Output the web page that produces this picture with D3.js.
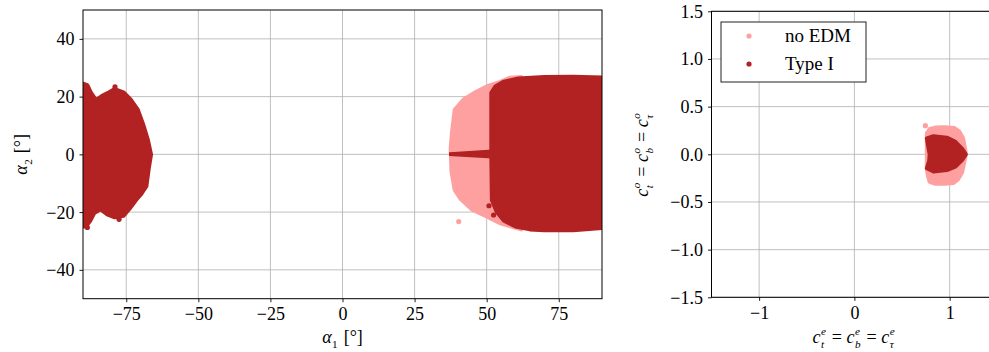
<!DOCTYPE html>
<html>
<head>
<meta charset="utf-8">
<script src="https://cdn.jsdelivr.net/npm/d3@7"></script>
<style>
  body { margin: 0; background: #fff; }
  svg text { font-family: "Liberation Serif", serif; fill: #000; }
</style>
</head>
<body>
<div id="chart"></div>
<script>
// colours of the two series
const colNoEdm = '#ffa0a0';
const colType1 = '#b22222';
const seriesNames = ['no EDM', 'Type I'];

// ticks
const leftXTicks = [-75, -50, -25, 0, 25, 50, 75];
const leftYTicks = [-40, -20, 0, 20, 40];
const rightXTicks = [-1, 0, 1];
const rightYTicks = [-1.5, -1.0, -0.5, 0.0, 0.5, 1.0, 1.5];

// left panel: outlines of the point clouds (alpha1, alpha2)
const leftNoEdmCloud = [
  [37.5, 2], [38, 8], [38.9, 15.4], [42, 19], [46.4, 21.7], [50, 23.5], [54.5, 25], [58, 26.5], [62, 26.8],
  [62, -26], [55, -24], [50, -21.5], [45, -19.2], [41, -15.5], [38.9, -12.3], [37.8, -6]
];
const leftNoEdmDots = [
  [40.3, -23.3], [-86.5, 19.2], [-85, 17.8], [-84, 16.8], [-86, -18.5], [-85, -19.6], [-84, -17.6], [-89, -22.3], [-87.8, 20.5]
];
const leftType1Cloud = [
  [51.6, 21.3], [53, 23.5], [56, 25.2], [61, 26.3], [70, 26.8], [80, 26.9], [90, 26.6],
  [90, -25.5], [80, -26.3], [70, -26.3], [65, -26], [60, -25], [56, -23], [53.5, -20], [51.8, -15.8], [51.6, 0]
];
const leftType1Streak = [
  [37.2, 0.45], [51.7, 1.4], [51.7, -1.2], [37.2, -0.35]
];
const leftType1CloudB = [
  [-90, 24.5], [-88.5, 24], [-87.3, 21.5], [-85.5, 18.8], [-83.5, 20.2], [-81.5, 21.2], [-79, 22.6], [-76, 21.5],
  [-73.5, 19], [-71, 15.5], [-69, 10], [-67.5, 5], [-66.4, 0], [-67.2, -5], [-68, -11], [-70, -14],
  [-71.6, -15.8], [-74, -19], [-76, -21.3], [-79, -21.8], [-81.6, -20.8], [-84, -19], [-86, -20.2],
  [-87.5, -23], [-89, -25], [-90, -25]
];
const leftType1Dots = [[-78.9, 23.4], [-77.5, -22.5], [-88.5, -25.3], [52.4, -21], [50.8, -17.8]];

// right panel: outlines (c_e, c_o)
const rightNoEdmCloud = [
  [0.76, 0.22], [0.79, 0.265], [0.85, 0.28], [0.95, 0.285], [1.05, 0.275], [1.1, 0.24], [1.14, 0.17],
  [1.16, 0.07], [1.17, 0], [1.15, -0.1], [1.13, -0.19], [1.09, -0.26], [1.04, -0.30], [0.95, -0.31],
  [0.85, -0.31], [0.79, -0.29], [0.77, -0.22], [0.76, -0.15]
];
const rightNoEdmDots = [[0.745, 0.30]];
const rightType1Cloud = [
  [0.76, 0.168], [0.83, 0.19], [0.97, 0.175], [1.06, 0.13], [1.13, 0.06], [1.17, 0], [1.13, -0.06],
  [1.06, -0.13], [0.97, -0.165], [0.83, -0.18], [0.76, -0.147], [0.785, -0.07], [0.79, 0], [0.775, 0.08]
];

const width = 989, height = 352;
const svg = d3.select('#chart').append('svg')
  .attr('width', width)
  .attr('height', height);

const panelL = { x0: 83, x1: 602, y0: 10, y1: 298.7 };
const panelR = { x0: 711.5, x1: 997.3, y0: 11.3, y1: 297.3 };

// width of a string, measured with a throwaway text node
function measure(str, fs, italic) {
  const t = svg.append('text').attr('font-size', fs).attr('font-style', italic ? 'italic' : 'normal')
    .attr('xml:space', 'preserve').text(str);
  const w = t.node().getComputedTextLength();
  t.remove();
  return w;
}

// math style label (c_t^e ...) as one text element with tspans
function mathText(parent, atoms, fs) {
  const small = fs * 0.62, up = fs * 0.45, down = fs * 0.3;
  const t = parent.append('text').attr('font-size', fs).attr('xml:space', 'preserve');
  let total = 0;
  let shift = { dx: 0, dy: 0 }; // carried over to the next base glyph
  atoms.forEach(a => {
    t.append('tspan').attr('font-style', a.i ? 'italic' : 'normal')
      .attr('dx', shift.dx || null).attr('dy', shift.dy || null).text(a.t);
    shift = { dx: 0, dy: 0 };
    total += measure(a.t, fs, a.i);
    if (!a.sup && !a.sub) return;
    const supW = a.sup ? measure(a.sup, small, true) : 0;
    const subW = a.sub ? measure(a.sub, small, a.subI !== false) : 0;
    let lift = 0;
    if (a.sup) {
      t.append('tspan').attr('font-size', small).attr('font-style', 'italic')
        .attr('dx', 0.5).attr('dy', -up).text(a.sup);
      lift = -up;
    }
    if (a.sub) {
      t.append('tspan').attr('font-size', small).attr('font-style', a.subI === false ? 'normal' : 'italic')
        .attr('dx', a.sup ? -supW : 0.5).attr('dy', down - lift).text(a.sub);
      lift = down;
    }
    const used = a.sup && a.sub ? subW : (a.sup ? supW : subW);
    const w = Math.max(supW, subW);
    shift = { dx: w - used + 1.5, dy: -lift };
    total += w + 2;
  });
  return { t, w: total };
}

function drawPanel(p, xDom, yDom, xTicks, yTicks, xFmt, yFmt) {
  const x = d3.scaleLinear().domain(xDom).range([p.x0, p.x1]);
  const y = d3.scaleLinear().domain(yDom).range([p.y1, p.y0]);
  const id = 'clip' + Math.round(p.x0);
  svg.append('clipPath').attr('id', id).append('rect')
    .attr('x', p.x0).attr('y', p.y0).attr('width', p.x1 - p.x0).attr('height', p.y1 - p.y0);

  // grid
  const grid = svg.append('g');
  grid.selectAll('.gx').data(xTicks).enter().append('line')
    .attr('x1', d => x(d)).attr('x2', d => x(d)).attr('y1', p.y0).attr('y2', p.y1)
    .attr('stroke', '#b0b0b0').attr('stroke-width', 0.8);
  grid.selectAll('.gy').data(yTicks).enter().append('line')
    .attr('y1', d => y(d)).attr('y2', d => y(d)).attr('x1', p.x0).attr('x2', p.x1)
    .attr('stroke', '#b0b0b0').attr('stroke-width', 0.8);

  const plot = svg.append('g').attr('clip-path', `url(#${id})`);

  // axes
  const ax = svg.append('g').attr('transform', `translate(0,${p.y1})`)
    .call(d3.axisBottom(x).tickValues(xTicks).tickFormat(xFmt).tickSize(3.5).tickPadding(3));
  const ay = svg.append('g').attr('transform', `translate(${p.x0},0)`)
    .call(d3.axisLeft(y).tickValues(yTicks).tickFormat(yFmt).tickSize(3.5).tickPadding(5));
  [ax, ay].forEach(a => {
    a.attr('font-family', null);
    a.select('.domain').remove();
    a.selectAll('line').attr('stroke', '#000').attr('stroke-width', 0.9);
    a.selectAll('text').attr('font-size', 18);
  });
  ax.selectAll('text').attr('dy', '0.85em');
  ay.selectAll('text').attr('dy', '0.33em');

  // spines
  svg.append('rect').attr('x', p.x0).attr('y', p.y0)
    .attr('width', p.x1 - p.x0).attr('height', p.y1 - p.y0)
    .attr('fill', 'none').attr('stroke', '#000').attr('stroke-width', 1);

  return { x, y, plot };
}

const minus = v => (v < 0 ? '\u2212' : '') + Math.abs(v);
const L = drawPanel(panelL, [-90, 90], [-50, 50], leftXTicks, leftYTicks, minus, minus);
const R = drawPanel(panelR, [-1.5, 1.5], [-1.5, 1.5], rightXTicks, rightYTicks, minus,
  v => (v < 0 ? '\u2212' : '') + Math.abs(v).toFixed(1));

function cloud(P, pts, col) {
  const line = d3.line().x(d => P.x(d[0])).y(d => P.y(d[1])).curve(d3.curveLinearClosed);
  P.plot.append('path').attr('d', line(pts))
    .attr('fill', col).attr('stroke', col).attr('stroke-width', 4).attr('stroke-linejoin', 'round');
}
function dots(P, pts, col) {
  P.plot.selectAll(null).data(pts).enter().append('circle')
    .attr('cx', d => P.x(d[0])).attr('cy', d => P.y(d[1])).attr('r', 2.6).attr('fill', col);
}

// no EDM first, Type I drawn on top
cloud(L, leftNoEdmCloud, colNoEdm);
dots(L, leftNoEdmDots, colNoEdm);
cloud(L, leftType1Cloud, colType1);
cloud(L, leftType1CloudB, colType1);
L.plot.append('path')
  .attr('d', d3.line().x(d => L.x(d[0])).y(d => L.y(d[1])).curve(d3.curveLinearClosed)(leftType1Streak))
  .attr('fill', colType1).attr('stroke', colType1).attr('stroke-width', 1.5);
dots(L, leftType1Dots, colType1);

cloud(R, rightNoEdmCloud, colNoEdm);
dots(R, rightNoEdmDots, colNoEdm);
cloud(R, rightType1Cloud, colType1);

// axis labels
const xl1 = mathText(svg, [{ t: 'α', i: true, sub: '1', subI: false }, { t: ' [°]' }], 18);
xl1.t.attr('transform', `translate(${(panelL.x0 + panelL.x1) / 2 - xl1.w / 2},343)`);
const yl1 = mathText(svg, [{ t: 'α', i: true, sub: '2', subI: false }, { t: ' [°]' }], 18);
yl1.t.attr('transform', `translate(27,${(panelL.y0 + panelL.y1) / 2}) rotate(-90) translate(${-yl1.w / 2},0)`);

const xl2 = mathText(svg, [
  { t: 'c', i: true, sup: 'e', sub: 't' }, { t: ' = ' },
  { t: 'c', i: true, sup: 'e', sub: 'b' }, { t: ' = ' },
  { t: 'c', i: true, sup: 'e', sub: 'τ' }], 18);
xl2.t.attr('transform', `translate(${854.3 - xl2.w / 2},343)`);
const yl2 = mathText(svg, [
  { t: 'c', i: true, sup: 'o', sub: 't' }, { t: ' = ' },
  { t: 'c', i: true, sup: 'o', sub: 'b' }, { t: ' = ' },
  { t: 'c', i: true, sup: 'o', sub: 'τ' }], 18);
yl2.t.attr('transform', `translate(648,${(panelR.y0 + panelR.y1) / 2}) rotate(-90) translate(${-yl2.w / 2},0)`);

// legend
const leg = svg.append('g');
leg.append('rect').attr('x', 721).attr('y', 22).attr('width', 145).attr('height', 60)
  .attr('fill', '#fff').attr('stroke', '#222').attr('stroke-width', 1);
[colNoEdm, colType1].forEach((c, i) => {
  leg.append('circle').attr('cx', 749).attr('cy', 36 + i * 28).attr('r', 2.6).attr('fill', c);
  leg.append('text').attr('x', 785).attr('y', 36 + i * 28).attr('dy', '0.33em')
    .attr('font-size', 19).text(seriesNames[i]);
});
</script>
</body>
</html>
